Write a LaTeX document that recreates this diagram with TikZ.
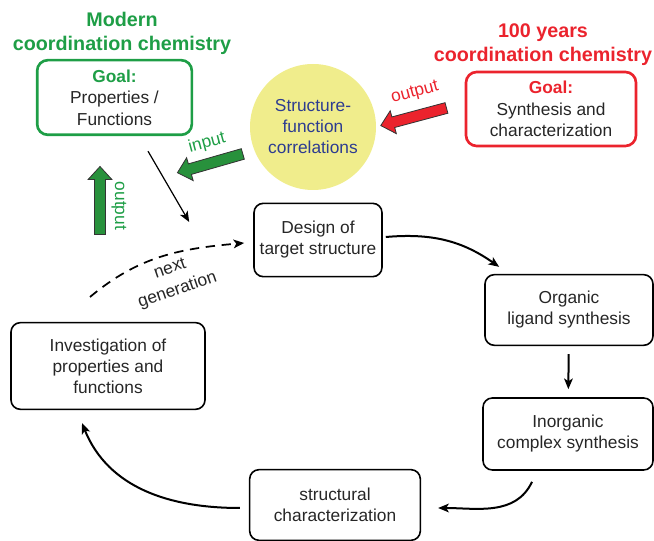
\documentclass[tikz,border=0pt]{standalone}
\usepackage{fontspec}
\setmainfont{Liberation Sans}
\usepackage{tikz}
\usetikzlibrary{arrows.meta, calc, shapes.arrows}
\definecolor{modgreen}{RGB}{30,158,70}
\definecolor{arrowgreen}{RGB}{40,145,60}
\definecolor{oldred}{RGB}{235,35,45}
\definecolor{corryellow}{RGB}{240,237,140}
\definecolor{corrblue}{RGB}{45,60,145}
\tikzstyle{block} = [rectangle, draw, line width=1.2pt, rounded corners=7pt,
    align=center, text=black!85, font=\fontsize{13}{15.75}\selectfont]
\tikzstyle{goal} = [rectangle, draw, line width=2pt, rounded corners=8pt,
    align=center, text=black!85, font=\fontsize{13}{16}\selectfont]
\tikzstyle{fat} = [single arrow, draw=black!80, line width=0.6pt, inner xsep=0pt,
    inner ysep=3.8pt, minimum height=51pt, single arrow head extend=4.8pt,
    single arrow tip angle=85]

\begin{document}
\begin{tikzpicture}[
x=0.75pt, y=-0.75pt,
title/.style = {align=center, font=\bfseries\fontsize{14.8}{18}\selectfont},
tag/.style = {align=center, font=\fontsize{13}{17}\selectfont},
link/.style = {draw, line width=1.5pt, -{Stealth[length=8pt, width=6.5pt, inset=2pt]}}
                        ]
\useasboundingbox (0,0) rectangle (654,541);
% two goals
\node [title, text=modgreen] (modtitle) at (122,33) {Modern\\coordination chemistry};
\node [goal, draw=modgreen, minimum width=116pt, minimum height=56pt] (modgoal) at (114.5,97.5)
	{\textcolor{modgreen}{\textbf{Goal:}}\\Properties /\\Functions};
\node [title, text=oldred] (oldtitle) at (543,45) {100 years\\coordination chemistry};
\node [goal, draw=oldred, minimum width=127.5pt, minimum height=55.5pt] (oldgoal) at (551,109)
	{\textcolor{oldred}{\textbf{Goal:}}\\Synthesis and\\characterization};
\node [circle, fill=corryellow, minimum size=94.5pt, inner sep=0pt, align=center, text=corrblue,
	font=\fontsize{13}{15.75}\selectfont] (corr) at (313,127) {Structure-\\function\\correlations};

% fat arrows
\node [fat, fill=oldred, rotate=195] (outred) at (416.5,116) {};
\node [tag, text=oldred, rotate=15] (outredlbl) at (415,93) {output};
\node [fat, fill=arrowgreen, rotate=196] (ingreen) at (213,162.5) {};
\node [tag, text=modgreen, rotate=15] (inlbl) at (207,143) {input};
\node [fat, fill=arrowgreen, rotate=90] (outgreen) at (100,203.5) {};
\node [tag, text=modgreen, rotate=-90] (outgreenlbl) at (119,206) {output};

% cycle
\node [block, minimum width=96pt, minimum height=55pt] (design) at (318,240) {Design of\\target structure};
\node [block, minimum width=126pt, minimum height=53pt] (organic) at (569,310) {Organic\\ligand synthesis};
\node [block, minimum width=127.5pt, minimum height=54pt] (inorganic) at (568,434) {Inorganic\\complex synthesis};
\node [block, minimum width=128pt, minimum height=53pt] (structural) at (335,505) {structural\\characterization};
\node [block, minimum width=145.5pt, minimum height=65pt] (investig) at (108,366)
	{Investigation of\\properties and\\functions};

\draw [link, line width=0.9pt] ($(modgoal.south)+(33.5,15)$) -- ($(design.west)+(-64,-18)$);
\draw [link] ($(design.east)+(3,-3)$) to[out=5, in=145] ($(organic.north west)+(15,-7)$);
\draw [link, shorten <=6pt, shorten >=6pt] (organic) -- (inorganic);
\draw [link] ($(inorganic.south)+(-36,11)$) to[out=245, in=0] ($(structural.east)+(17,3)$);
\draw [link] ($(structural.west)+(-9,3)$) to[out=180, in=-68] ($(investig.south)+(-26,13)$);

% next generation
\coordinate (nextgen) at (90,297);
\draw [link, line width=1.3pt, dash pattern=on 7pt off 5pt] (nextgen) to[out=40, in=185] ($(design.west)+(-9,3)$);
\node [tag, text=black!85, rotate=19] (nextlbl) at (174,280) {next\\generation};
\end{tikzpicture}
\end{document}
